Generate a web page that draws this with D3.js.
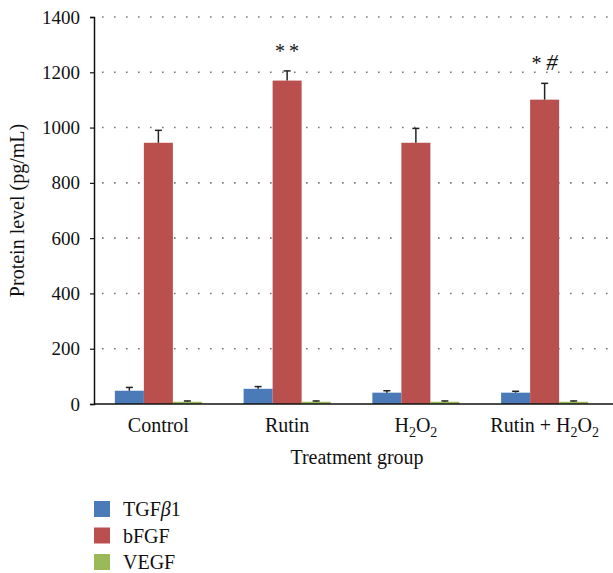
<!DOCTYPE html>
<html><head><meta charset="utf-8">
<script src="https://d3js.org/d3.v7.min.js"></script>
<style>body{margin:0;background:#fff}svg{display:block}text{font-family:"Liberation Serif","DejaVu Serif",serif;fill:#111}</style>
</head><body>
<script>
const categories = ["Control","Rutin","H2O2","Rutin + H2O2"];
const seriesNames = ["TGFβ1","bFGF","VEGF"];
const tgfb1 = [48, 55, 41, 41];
const tgfb1Err = [12, 8, 7, 5];
const bfgf = [945, 1170, 945, 1101];
const bfgfErr = [45, 35, 52, 59];
const vegf = [8, 8, 8, 8];
const vegfErr = [3, 3, 3, 3];
const annotations = ["", "* *", "", "* #"];
const yTicks = [0,200,400,600,800,1000,1200,1400];
const colors = ["#4a7ab7","#b9504e","#9aba5a"];

const W=613,H=573;
const svg=d3.select("body").append("svg").attr("width",W).attr("height",H);
const m={l:94,r:4,t:17,b:169};
const x=d3.scaleBand().domain(categories).range([m.l,W-m.r]).paddingInner(0.324).paddingOuter(0.162);
const sub=d3.scaleBand().domain(seriesNames).range([0,x.bandwidth()]);
const y=d3.scaleLinear().domain([0,1400]).range([H-m.b,m.t]);

// grid
svg.append("g").selectAll("line").data(yTicks.filter(d=>d>0)).join("line")
 .attr("x1",m.l+8).attr("x2",W).attr("y1",d=>y(d)).attr("y2",d=>y(d))
 .attr("stroke","#777").attr("stroke-width",1.6).attr("stroke-dasharray","1.6,10.4");

const vals=[tgfb1,bfgf,vegf], errs=[tgfb1Err,bfgfErr,vegfErr];
seriesNames.forEach((s,si)=>{
  const g=svg.append("g");
  g.selectAll("rect").data(categories).join("rect")
   .attr("x",c=>x(c)+sub(s)).attr("width",sub.bandwidth())
   .attr("y",(c,i)=>y(vals[si][i])).attr("height",(c,i)=>y(0)-y(vals[si][i]))
   .attr("fill",colors[si]);
  const e=svg.append("g").attr("stroke","#222").attr("stroke-width",1.5);
  categories.forEach((c,i)=>{
    const cx=x(c)+sub(s)+sub.bandwidth()/2;
    e.append("line").attr("x1",cx).attr("x2",cx).attr("y1",y(vals[si][i])).attr("y2",y(vals[si][i]+errs[si][i]));
    e.append("line").attr("x1",cx-3.5).attr("x2",cx+3.5).attr("y1",y(vals[si][i]+errs[si][i])).attr("y2",y(vals[si][i]+errs[si][i]));
  });
});

// annotations
categories.forEach((c,i)=>{
  if(!annotations[i]) return;
  const cx=x(c)+sub("bFGF")+sub.bandwidth()/2;
  const t=svg.append("text").attr("x",cx).attr("y",y(bfgf[i]+bfgfErr[i])-13)
   .attr("text-anchor","middle").attr("font-size",20);
  annotations[i].split(" ").forEach((p,k)=>{
    const ts=t.append("tspan").text((k?"\u2009":"")+p);
    if(p==="#") ts.attr("font-style","italic").attr("font-size",23);
  });
});

// y axis
const ya=svg.append("g").attr("transform",`translate(${m.l},0)`)
 .call(d3.axisLeft(y).tickValues(yTicks).tickFormat(d3.format("d")).tickSize(4).tickPadding(10));
ya.select(".domain").attr("stroke","#111").attr("stroke-width",1.5);
ya.selectAll(".tick line").attr("stroke","#111").attr("stroke-width",1.2);
ya.selectAll("text").attr("font-size",19).attr("font-family","Liberation Serif, serif").attr("fill","#111");

// x axis
svg.append("line").attr("x1",m.l).attr("x2",W).attr("y1",y(0)).attr("y2",y(0)).attr("stroke","#111").attr("stroke-width",1.5);
categories.forEach(c=>{
  const t=svg.append("text").attr("x",x(c)+x.bandwidth()/2).attr("y",y(0)+28).attr("text-anchor","middle").attr("font-size",20);
  const parts=c.split("H2O2");
  if(parts.length===1){t.text(c);return;}
  t.append("tspan").text(parts[0]+"H");
  t.append("tspan").attr("font-size",14).attr("dy",5).text("2");
  t.append("tspan").attr("dy",-5).text("O");
  t.append("tspan").attr("font-size",14).attr("dy",5).text("2");
});

svg.append("text").attr("x",357).attr("y",y(0)+60).attr("text-anchor","middle").attr("font-size",20).text("Treatment group");
svg.append("text").attr("transform",`translate(24,${(y(0)+y(1400))/2}) rotate(-90)`).attr("text-anchor","middle").attr("font-size",20).text("Protein level (pg/mL)");

// legend
const lg=svg.append("g").attr("transform","translate(94,501)");
seriesNames.forEach((s,i)=>{
  const r=lg.append("g").attr("transform",`translate(0,${i*26.5})`);
  r.append("rect").attr("width",16).attr("height",16).attr("fill",colors[i]);
  const t=r.append("text").attr("x",29).attr("y",15).attr("font-size",20);
  if(s.includes("β")){t.append("tspan").text("TGF");t.append("tspan").attr("font-style","italic").text("β");t.append("tspan").text("1");}
  else t.text(s);
});
</script>
</body></html>
